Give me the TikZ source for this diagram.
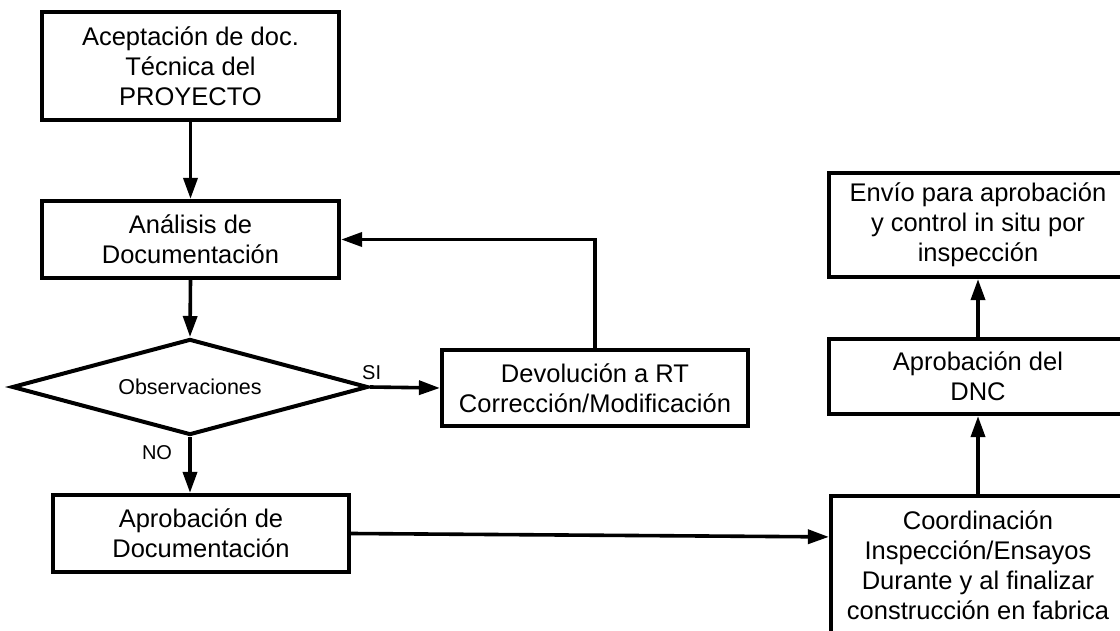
\documentclass[tikz,border=0pt]{standalone}
\usepackage{fontspec}
\setmainfont{Liberation Sans}
\usetikzlibrary{arrows.meta,shapes.geometric}
\begin{document}
\begin{tikzpicture}[x=1pt,y=-1pt,
  box/.style={draw,line width=4.2pt,rectangle,inner sep=0pt,align=center,
    font=\fontsize{25.5}{30}\selectfont},
  decision/.style={draw,line width=4pt,diamond,aspect=3.7,inner sep=0pt,
    minimum width=356pt,minimum height=96pt,font=\fontsize{21.5}{26}\selectfont},
  arr/.style={line width=3.6pt,-{Triangle[length=21pt,width=14pt]}},
  lbl/.style={font=\fontsize{20}{24}\selectfont,inner sep=0pt}]
\useasboundingbox (0,0) rectangle (1120,631);
\node[box,minimum width=297pt,minimum height=108pt] (n1) at (190.5,66)
  {Aceptación de doc.\\Técnica del\\PROYECTO};
\node[box,minimum width=297pt,minimum height=77pt] (n2) at (190.5,239.5)
  {Análisis de\\Documentación};
\node[decision] (dia) at (190,387) {Observaciones};
\node[box,minimum width=306pt,minimum height=76pt] (n3) at (595,388)
  {Devolución a RT\\Corrección/Modificación};
\node[box,minimum width=296pt,minimum height=77pt] (n4) at (201,533.5)
  {Aprobación de\\Documentación};
\node[box,minimum width=294pt,minimum height=138pt] (n5) at (978,565)
  {Coordinación\\Inspección/Ensayos\\Durante y al finalizar\\construcción en fabrica};
\node[box,minimum width=298pt,minimum height=75pt] (n6) at (978,376.5)
  {Aprobación del\\DNC};
\node[box,minimum width=298pt,minimum height=104pt] (n7) at (978,225)
  {Envío para aprobación\\y control in situ por\\inspección};
\coordinate (c1) at (n3.north |- n2.east);
\coordinate (c2) at ([yshift=-43pt]n5.north west);
\draw[arr] (n1.south) -- (n2.north);
\draw[arr] (n2.south) -- (dia.north);
\draw[arr] (dia.east) -- (n3.west);
\draw[arr] (n3.north) -- (c1) -- (n2.east);
\draw[arr] (dia.south) -- (dia.south |- n4.north);
\draw[arr] (n4.east) -- (c2);
\draw[arr] (n5.north) -- (n6.south);
\draw[arr] (n6.north) -- (n7.south);
\node[lbl,anchor=south west] (si) at ([xshift=-8pt,yshift=7pt]dia.east) {SI};
\node[lbl] (no) at (157,453) {NO};
\end{tikzpicture}
\end{document}
